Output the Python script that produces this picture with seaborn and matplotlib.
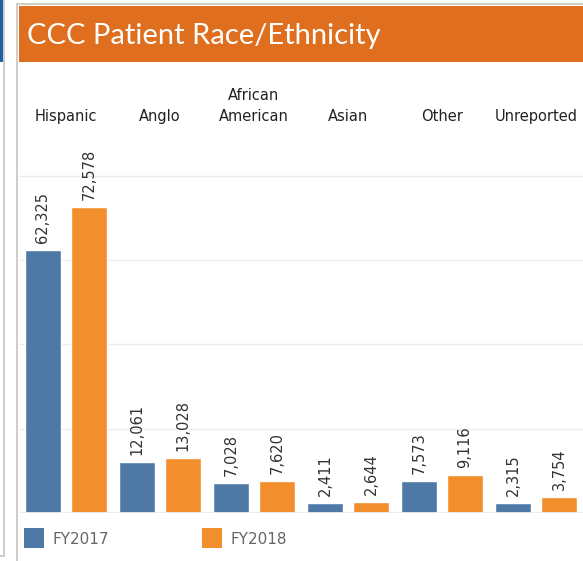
import pandas as pd
import matplotlib.pyplot as plt
import seaborn as sns
from matplotlib.patches import Rectangle
from matplotlib.lines import Line2D
import matplotlib.transforms as mtrans

categories = ["Hispanic", "Anglo", "African\nAmerican", "Asian", "Other", "Unreported"]
fy2017 = [62325, 12061, 7028, 2411, 7573, 2315]
fy2018 = [72578, 13028, 7620, 2644, 9116, 3754]
years = ["FY2017", "FY2018"]

data = pd.DataFrame({
    "category": categories * 2,
    "year": [years[0]] * 6 + [years[1]] * 6,
    "patients": fy2017 + fy2018,
})

blue = "#4E79A7"
orange = "#F28E2B"
W, H = 583, 561

sns.set_style("white")
plt.rcParams["font.family"] = ["DejaVu Sans"]
fig = plt.figure(figsize=(W / 100, H / 100), dpi=100)

ax = fig.add_axes([19 / W, (H - 513) / H, 564 / W, (513 - 140) / H])
sns.barplot(data=data, x="category", y="patients", hue="year",
            palette=[blue, orange], saturation=1, width=0.98, gap=0.22,
            ax=ax, legend=False, zorder=3)
ax.set_xlim(-0.5, 5.5)
ax.set_ylim(0, 88470)
for v in [20000, 40000, 60000, 80000]:
    ax.axhline(v, color="#EDEDED", lw=1, zorder=0)
ax.axhline(0, color="#EDEDED", lw=2, zorder=4)
for s in ax.spines.values():
    s.set_visible(False)
ax.set_xticks([])
ax.set_yticks([])
ax.set_xlabel("")
ax.set_ylabel("")

for cont in ax.containers:
    for bar in cont:
        h = bar.get_height()
        ax.annotate(f"{h:,.0f}", (bar.get_x() + bar.get_width() / 2, h),
                    xytext=(0, 5), textcoords="offset points",
                    rotation=90, ha="center", va="bottom",
                    fontsize=10.5, color="#333333")

# category headers above the plot
trans = mtrans.blended_transform_factory(ax.transData, fig.transFigure)
for i, c in enumerate(categories):
    ax.text(i, 1 - 124 / H, c, transform=trans, ha="center", va="bottom",
            fontsize=10.5, color="#222222", linespacing=1.5)

# title bar
fig.add_artist(Rectangle((19 / W, 1 - 62 / H), 1, 56 / H,
                         transform=fig.transFigure, color="#DF6F1F", lw=0))
fig.text(27 / W, 1 - 36 / H, "CCC Patient Race/Ethnicity", color="white",
         fontsize=21, va="center", ha="left", family="Lato")

# dashboard frame lines
fig.add_artist(Rectangle((0, 1 - 62 / H), 3 / W, 62 / H,
                         transform=fig.transFigure, color="#1F5FA8", lw=0))
fig.add_artist(Line2D([3.5 / W, 3.5 / W], [1 - 556 / H, 1],
                      transform=fig.transFigure, color="#C8C4BC", lw=1.2))
fig.add_artist(Line2D([0, 3.5 / W], [1 - 556 / H, 1 - 556 / H],
                      transform=fig.transFigure, color="#C8C4BC", lw=1.2))
fig.add_artist(Line2D([16.5 / W, 16.5 / W], [0, 1 - 4 / H],
                      transform=fig.transFigure, color="#C8C4BC", lw=1.2))
fig.add_artist(Line2D([16.5 / W, 1], [1 - 4 / H, 1 - 4 / H],
                      transform=fig.transFigure, color="#C8C4BC", lw=1.2))

# legend
for x0, label, col in [(24, years[0], blue), (202, years[1], orange)]:
    fig.add_artist(Rectangle((x0 / W, 1 - 548 / H), 20 / W, 20 / H,
                             transform=fig.transFigure, color=col, lw=0))
    fig.text((x0 + 29) / W, 1 - 539 / H, label, fontsize=11,
             color="#666666", va="center", ha="left")

fig.savefig("out.png", dpi=100)
